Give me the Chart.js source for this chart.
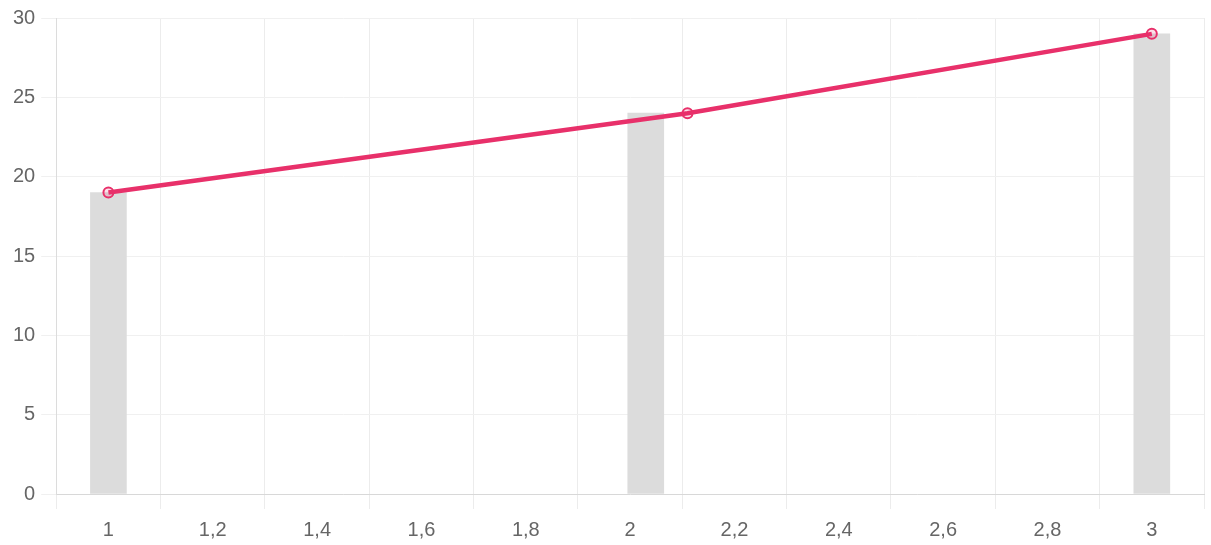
<!DOCTYPE html>
<html>
<head>
<meta charset="utf-8">
<script src="https://cdn.jsdelivr.net/npm/chart.js@4"></script>
<style>
    html, body { margin: 0; padding: 0; background: #fff; }
    #wrap { width: 1211px; height: 545px; }
</style>
</head>
<body>
<div id="wrap"><canvas id="myChart"></canvas></div>
<script>
// values
const barX = [1, 2.03, 3];
const barValues = [19, 24, 29];
const lineX = [1, 2.11, 3];
const lineValues = [19, 24, 29];
const xTicks = [1, 1.2, 1.4, 1.6, 1.8, 2, 2.2, 2.4, 2.6, 2.8, 3];

const toPoints = (xs, ys) => xs.map((x, i) => ({ x: x, y: ys[i] }));
const fmt = v => String(Math.round(v * 10) / 10).replace('.', ',');

Chart.defaults.font.family = '"Liberation Sans", Arial, sans-serif';
Chart.defaults.font.size = 20;
Chart.defaults.color = '#666';

const ctx = document.getElementById('myChart').getContext('2d');

new Chart(ctx, {
    type: 'bar',
    data: {
        datasets: [{
            type: 'line',
            data: toPoints(lineX, lineValues),
            borderColor: '#e8306a',
            borderWidth: 4.5,
            backgroundColor: 'rgba(232, 48, 106, 0.15)',
            pointRadius: 5,
            pointBorderWidth: 2,
            tension: 0,
            fill: false,
            order: 0
        }, {
            type: 'bar',
            data: toPoints(barX, barValues),
            backgroundColor: '#dcdcdc',
            barThickness: 36,
            order: 1
        }]
    },
    options: {
        responsive: true,
        maintainAspectRatio: false,
        animation: false,
        layout: { padding: { left: 7, right: 5, top: 6, bottom: -6 } },
        plugins: {
            legend: { display: false },
            tooltip: { enabled: false }
        },
        scales: {
            x: {
                type: 'linear',
                min: 0.9,
                max: 3.1,
                offset: false,
                afterBuildTicks: scale => {
                    scale.ticks = xTicks.map(v => ({ value: v }));
                },
                ticks: {
                    autoSkip: false,
                    maxRotation: 0,
                    padding: 11,
                    font: { lineHeight: 1 },
                    callback: v => fmt(v)
                },
                grid: {
                    offset: true,
                    color: '#ececec',
                    tickLength: 15
                },
                border: { color: '#d8d8d8' }
            },
            y: {
                min: 0,
                max: 30,
                ticks: {
                    stepSize: 5,
                    padding: 6
                },
                grid: {
                    color: '#f0f0f0',
                    tickLength: 15
                },
                border: { color: '#dcdcdc' }
            }
        }
    }
});
</script>
</body>
</html>
